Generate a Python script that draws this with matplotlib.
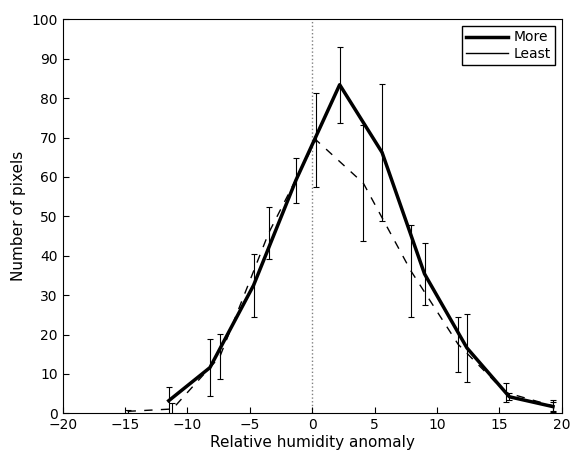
import matplotlib
matplotlib.use('Agg')
from matplotlib import pyplot as plt
from matplotlib.lines import Line2D

# data
more_x = [-11.5, -8.2, -4.7, -1.3, 2.2, 5.6, 9.0, 12.4, 15.8, 19.3]
more_y = [3.2, 11.6, 32.5, 59.2, 83.4, 66.2, 35.4, 16.6, 4.2, 1.7]
more_err = [3.5, 7.3, 8.0, 5.7, 9.6, 17.3, 7.8, 8.7, 0.9, 1.2]

least_x = [-14.8, -11.2, -7.4, -3.5, 0.3, 4.1, 7.9, 11.7, 15.5, 19.3]
least_y = [0.5, 1.1, 14.4, 45.7, 69.4, 58.4, 36.2, 17.5, 5.3, 1.9]
least_err = [0.3, 1.4, 5.8, 6.6, 12.0, 14.7, 11.7, 7.0, 2.5, 1.5]

fig = plt.figure(figsize=(5.7, 4.53), dpi=100)
ax = fig.add_axes([0.110, 0.0876, 0.8755, 0.8698])

ax.axvline(0, color='grey', linestyle=':', linewidth=1, zorder=0)

ax.plot(more_x, more_y, c='black', lw=2.5)
ax.errorbar(more_x, more_y, yerr=more_err, fmt='none', ecolor='black',
            elinewidth=0.8, capsize=2.5, capthick=0.8)
ax.plot(least_x, least_y, c='black', lw=1, linestyle=(0, (6, 6)))
ax.errorbar(least_x, least_y, yerr=least_err, fmt='none', ecolor='black',
            elinewidth=0.8, capsize=2.5, capthick=0.8)

ax.set_xlim(-20, 20)
ax.set_ylim(0, 100)
ax.set_xticks(range(-20, 21, 5))
ax.set_yticks(range(0, 101, 10))
ax.tick_params(axis='both', direction='in', length=4, labelsize=10,
               top=False, right=False)
ax.set_xlabel('Relative humidity anomaly', fontsize=11, labelpad=2)
ax.set_ylabel('Number of pixels', fontsize=11)

handles = [Line2D([], [], c='black', lw=2.5), Line2D([], [], c='black', lw=1)]
leg = ax.legend(handles, ['More', 'Least'], loc='upper right', fontsize=10,
                fancybox=False, framealpha=1, edgecolor='black',
                borderaxespad=0.5, handlelength=3, labelspacing=0.2,
                borderpad=0.3, handletextpad=0.4)
leg.get_frame().set_linewidth(1)

fig.savefig('out.png')
